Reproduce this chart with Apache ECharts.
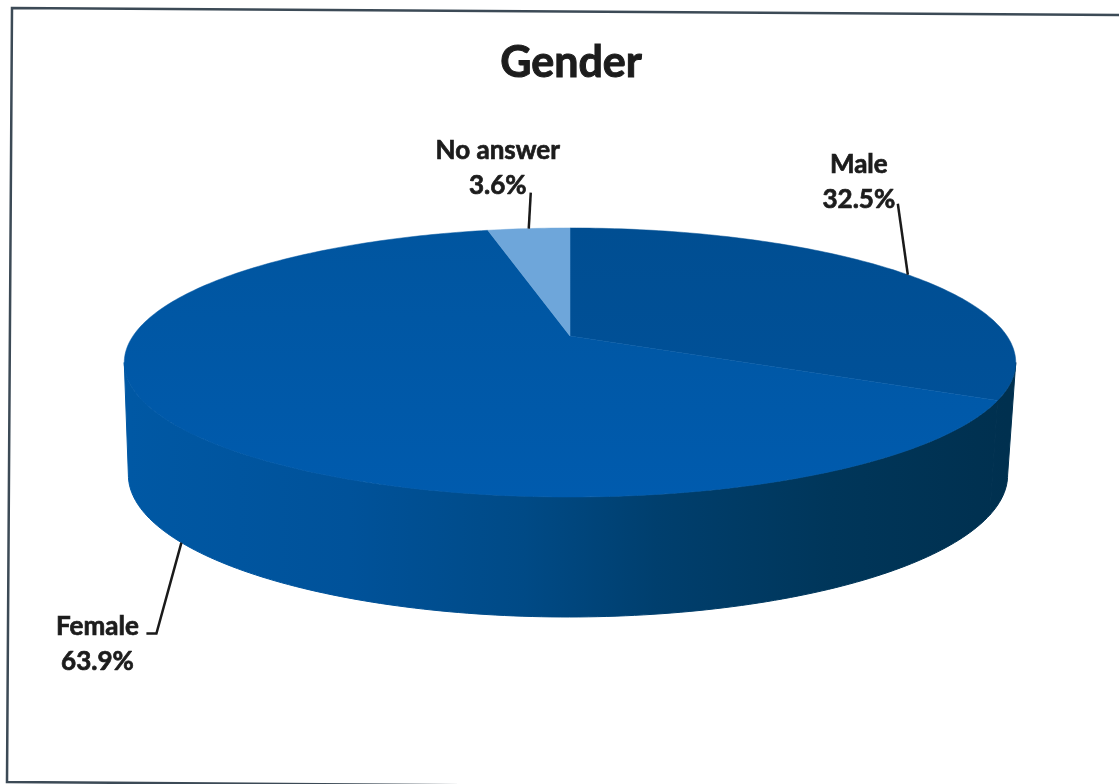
<!DOCTYPE html>
<html>
<head>
<meta charset="utf-8">
<style>html,body{margin:0;padding:0;background:#fff}#chart{width:1119px;height:784px}</style>
<script src="https://cdn.jsdelivr.net/npm/echarts@6/dist/echarts.min.js"></script>
</head>
<body>
<div id="chart"></div>
<script>
// --- data ---
const categories = ['Male', 'Female', 'No answer'];
const percentages = [32.5, 63.9, 3.6];
const chartTitle = 'Gender';

// --- look ---
const topGradients = [
  ['#004e92', '#00529c'],
  ['#00559f', '#005bae'],
  ['#6ea6da', '#6ea6da']
];
const sideGradient = [
  [0.00, '#00304f'], [0.20, '#00365a'], [0.40, '#003f6e'], [0.55, '#004a86'], [0.75, '#00529a'], [1.00, '#0058a4']
];
const FONT = 'Lato, "Open Sans", sans-serif';
// perspective disc: rim point = origin + scale * (u, v) / (1 - k v)
const topFace = { x: 570, y: 336, a: 437, b: 129.3, k: 0.197 };
const baseFace = { x: 568, y: 447, a: 431, b: 136.5, k: 0.197 };
// leader-line elbows and label anchors, relative to rim point of each slice
const labelLayout = {
  'Male': { face: 'top', path: [[-10, -71]], text: [-49, -93] },
  'Female': { face: 'base', path: [[-25, 91], [-35, 91]], text: [-84, 102] },
  'No answer': { face: 'top', path: [[2, -36]], text: [-31, -60] }
};

function rim(f, deg) {
  const t = deg * Math.PI / 180, u = Math.sin(t), v = -Math.cos(t), d = 1 - f.k * v;
  return [f.x + f.a * u / d, f.y + f.b * v / d];
}
function arcPoints(f, a0, a1) {
  const n = Math.max(2, Math.ceil(Math.abs(a1 - a0)));
  const out = [];
  for (let i = 0; i <= n; i++) out.push(rim(f, a0 + (a1 - a0) * i / n));
  return out;
}
const total = percentages.reduce((s, v) => s + v, 0);
function startAngle(idx) {
  let s = 0;
  for (let i = 0; i < idx; i++) s += percentages[i];
  return s / total * 360;
}
// angle at which the disc's outline is widest: the wall's silhouette
const silhouette = Math.acos(-topFace.k) * 180 / Math.PI;

function renderSlice(params, api) {
  const i = params.dataIndex;
  const value = api.value(0);
  const a0 = startAngle(i), a1 = a0 + value / total * 360;
  const children = [];

  const s0 = Math.max(a0, silhouette), s1 = Math.min(a1, 360 - silhouette);
  if (s1 > s0) {
    const pts = arcPoints(topFace, s0, s1).concat(arcPoints(baseFace, s1, s0));
    const wall = new echarts.graphic.LinearGradient(
      rim(baseFace, silhouette)[0], 0, rim(baseFace, 360 - silhouette)[0], 0,
      sideGradient.map(g => ({ offset: g[0], color: g[1] })), true);
    children.push({
      type: 'polygon', z2: 1,
      shape: { points: pts },
      style: { fill: wall, stroke: wall, lineWidth: 1 }
    });
  }
  const faceFill = new echarts.graphic.LinearGradient(0, topFace.y - 110, 0, topFace.y + 165,
    [{ offset: 0, color: topGradients[i][0] }, { offset: 1, color: topGradients[i][1] }], true);
  children.push({
    type: 'polygon', z2: 2,
    shape: { points: [[topFace.x, topFace.y]].concat(arcPoints(topFace, a0, a1)) },
    style: { fill: faceFill, stroke: faceFill, lineWidth: 0.5 }
  });
  const name = categories[i];
  const lay = labelLayout[name];
  const anchor = rim(lay.face === 'top' ? topFace : baseFace, (a0 + a1) / 2);
  children.push({
    type: 'polyline', z2: 3,
    shape: { points: [anchor].concat(lay.path.map(p => [anchor[0] + p[0], anchor[1] + p[1]])) },
    style: { fill: null, stroke: '#1a1a1a', lineWidth: 2.5 }
  });
  children.push({
    type: 'text', z2: 4,
    x: anchor[0] + lay.text[0], y: anchor[1] + lay.text[1],
    style: {
      text: name + '\n' + value.toFixed(1) + '%',
      fill: '#1c1c1c', font: 'bold 26px ' + FONT,
      stroke: '#1c1c1c', lineWidth: 0.7,
      align: 'center', verticalAlign: 'middle', lineHeight: 35
    }
  });
  return { type: 'group', children };
}

const chart = echarts.init(document.getElementById('chart'), null, { renderer: 'canvas' });
chart.setOption({
  animation: false,
  backgroundColor: '#ffffff',
  title: {
    text: chartTitle, left: 566, top: 37, textAlign: 'center',
    textStyle: { fontFamily: FONT, fontWeight: 'bold', fontSize: 43, color: '#1c1c1c',
      textBorderColor: '#1c1c1c', textBorderWidth: 1 }
  },
  graphic: [{
    type: 'polyline', silent: true,
    shape: { points: [[1125, 15], [12, 8], [7, 782], [1125, 790]] },
    style: { fill: null, stroke: '#3c4a56', lineWidth: 2.5 }
  }],
  series: [{
    type: 'custom',
    coordinateSystem: 'none',
    renderItem: renderSlice,
    encode: { value: 0, itemName: 1 },
    data: percentages.map((v, i) => ({ name: categories[i], value: [v] }))
  }]
});
</script>
</body>
</html>
